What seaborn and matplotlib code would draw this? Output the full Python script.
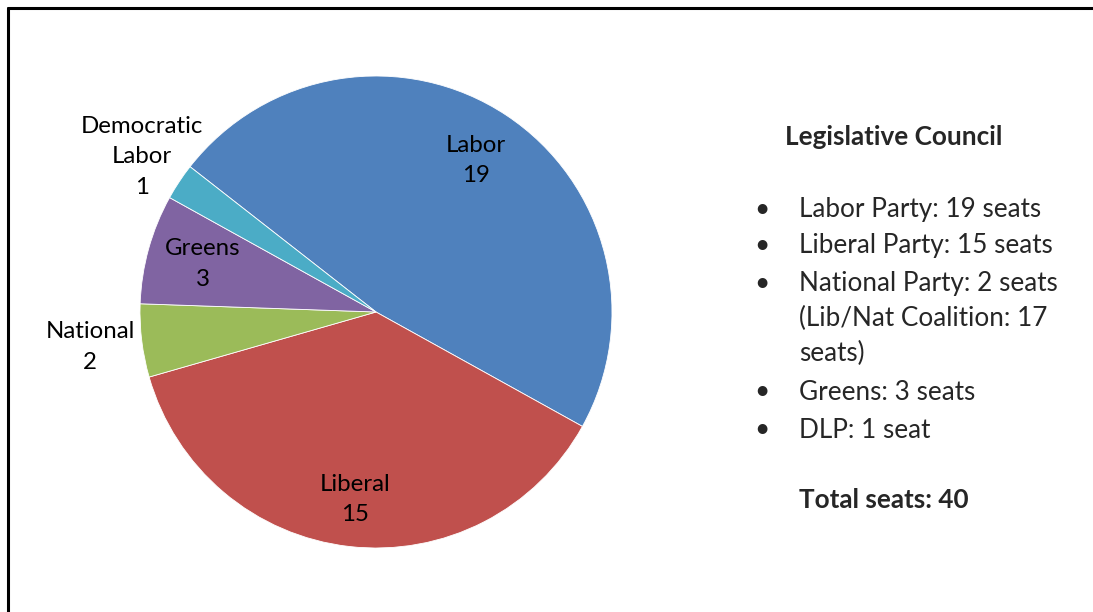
import numpy as np
import matplotlib
matplotlib.use("Agg")
import matplotlib.pyplot as plt
import seaborn as sns
from matplotlib.lines import Line2D

# ---- data ----
parties = ["Labor", "Liberal", "National", "Greens", "Democratic\nLabor"]
seats = [19, 15, 2, 3, 1]
colors = ["#4F81BD", "#C0504D", "#9BBB59", "#8064A2", "#4BACC6"]
label_dist = [0.77, 0.80, 1.22, 0.76, 1.19]

panel_title = "Legislative Council"
bullet_items = [
    "Labor Party: 19 seats",
    "Liberal Party: 15 seats",
    "National Party: 2 seats\n(Lib/Nat Coalition: 17\nseats)",
    "Greens: 3 seats",
    "DLP: 1 seat",
]
total_text = "Total seats: 40"

sns.set_theme(style="white")
plt.rcParams["font.family"] = ["Lato", "DejaVu Sans"]

W, H = 1093, 612
fig = plt.figure(figsize=(W / 100, H / 100), dpi=100)
fig.patch.set_facecolor("white")
ax = fig.add_axes([0, 0, 1, 1])

cx, cy, R = 376, H - 312, 236
wedges, _ = ax.pie(seats, colors=colors, startangle=142, counterclock=False,
                   center=(cx, cy), radius=R, frame=True,
                   wedgeprops=dict(edgecolor="white", linewidth=0.6))
ax.set_xlim(0, W)
ax.set_ylim(0, H)
ax.set_axis_off()

for w, name, n, d in zip(wedges, parties, seats, label_dist):
    mid = np.deg2rad((w.theta1 + w.theta2) / 2)
    x = cx + d * R * np.cos(mid)
    y = cy + d * R * np.sin(mid)
    ax.text(x, y, f"{name}\n{n}", ha="center", va="center", fontsize=17.3,
            linespacing=1.55, color="black", multialignment="center")

# right-hand text panel
fs = 18.8
fig.text(785 / W, 1 - 137 / H, panel_title, fontsize=18.8, fontweight="bold",
         va="center", ha="left")
ys = [209, 246, 284, 392, 430]
line_gap = 34.5
for y, item in zip(ys, bullet_items):
    fig.text(762 / W, 1 - y / H, "\u2022", fontsize=fs, va="center", ha="center")
    for k, line in enumerate(item.split("\n")):
        fig.text(799 / W, 1 - (y + k * line_gap) / H, line, fontsize=fs,
                 va="center", ha="left")
fig.text(799 / W, 1 - 500 / H, total_text, fontsize=fs, fontweight="bold",
         va="center", ha="left")

# frame border (left and top visible)
fig.add_artist(Line2D([8 / W, 8 / W], [0, 1 - 8 / H], transform=fig.transFigure,
                      color="black", linewidth=2.2))
fig.add_artist(Line2D([8 / W, 1], [1 - 8 / H, 1 - 8 / H], transform=fig.transFigure,
                      color="black", linewidth=2.2))

fig.savefig("out.png", dpi=100)
